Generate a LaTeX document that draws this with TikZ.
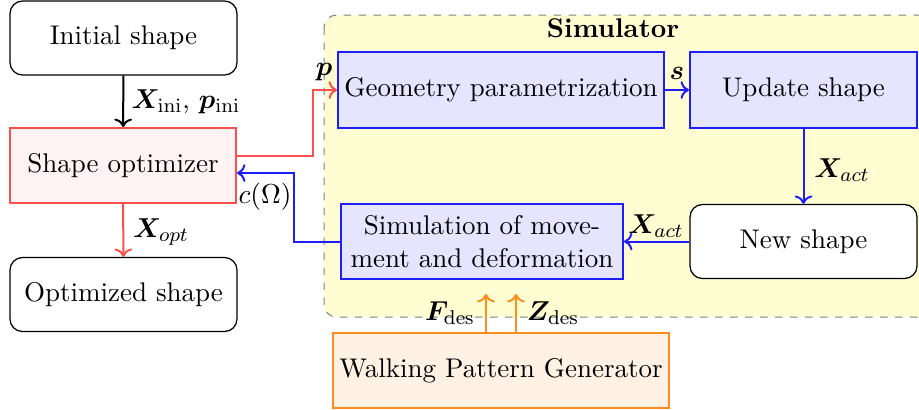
\documentclass[tikz,border=0pt]{standalone}
\usepackage{amsmath,bm}
\usetikzlibrary{arrows.meta}
\definecolor{myred}{RGB}{250,80,80}
\definecolor{myblue}{RGB}{30,30,250}
\definecolor{myorange}{RGB}{255,140,30}
\tikzset{
  bx/.style={draw, rounded corners=5pt, line width=0.5pt, minimum width=90.8pt, minimum height=29.6pt, inner sep=2pt},
  redbox/.style={draw=myred, fill=myred!7, line width=0.8pt, minimum width=90.4pt, minimum height=30pt},
  bluebox/.style={draw=myblue, fill=blue!10, line width=0.8pt, minimum height=30.4pt, inner xsep=1pt},
  orbox/.style={draw=myorange, fill=myorange!12, line width=0.8pt, minimum width=134.4pt, minimum height=30pt, inner xsep=1pt},
  arr/.style={->, line width=0.8pt},
  lbl/.style={inner sep=1pt}
}
\begin{document}
\begin{tikzpicture}[x=0.4pt,y=-0.4pt, font=\fontsize{10.8}{13}\selectfont]
\useasboundingbox (0,0) rectangle (919,409);
% simulator background
\draw[dashed, draw=gray, fill=yellow!18, rounded corners=5pt, line width=0.4pt] (324,15) rectangle (935,317);
\node[font=\fontsize{10.8}{13}\selectfont\bfseries] (simlbl) at (613,28) {Simulator};

\node[bx] (init) at (123.5,38) {Initial shape};
\node[redbox] (so) at (123,165.5) {Shape optimizer};
\node[bx] (optd) at (123.5,294.5) {Optimized shape};
\node[bluebox, minimum width=130.4pt] (geo) at (501,90) {Geometry parametrization};
\node[bluebox, minimum width=90.8pt] (upd) at (803.5,90) {Update shape};
\node[bx, fill=white] (new) at (803.5,241.5) {New shape};
\node[bluebox, minimum width=112.8pt, align=center, minimum height=30pt, inner sep=2pt] (sim) at (482,241.5) {Simulation of move-\\ment and deformation};
\node[orbox] (wpg) at (501,370.5) {Walking Pattern Generator};

% black arrow
\draw[arr] (init) -- (so);
\node[lbl] (l1) at (186,102) {$\bm{X}_{\mathrm{ini}}$, $\bm{p}_{\mathrm{ini}}$};
% red arrows
\draw[arr, myred] (so) -- (optd);
\node[lbl] (l2) at (161,232) {$\bm{X}_{opt}$};
\coordinate (r1) at (313,90);
\draw[arr, myred] ([yshift=4pt]so.east) -| (r1) -- (geo.west);
\node[lbl] (l3) at (324,72) {$\bm{p}$};
% blue arrows
\coordinate (b1) at (294,241.5);
\draw[arr, myblue] (sim.west) -- (b1) |- ([yshift=-3pt]so.east);
\node[lbl] (l4) at (265,197) {$c(\Omega)$};
\draw[arr, myblue] (geo) -- (upd);
\node[lbl] (l5) at (677,73) {$\bm{s}$};
\draw[arr, myblue] (upd) -- (new);
\node[lbl] (l6) at (842,170) {$\bm{X}_{act}$};
\draw[arr, myblue] (new) -- (sim);
\node[lbl] (l7) at (656,226) {$\bm{X}_{act}$};
% orange arrows
\coordinate (f1) at (486,294);
\coordinate (z1) at (516,294);
\draw[arr, myorange] (wpg.north -| f1) -- (f1);
\draw[arr, myorange] (wpg.north -| z1) -- (z1);
\node[lbl] (l8) at (450,313) {$\bm{F}_{\mathrm{des}}$};
\node[lbl] (l9) at (553,313) {$\bm{Z}_{\mathrm{des}}$};
\end{tikzpicture}
\end{document}
